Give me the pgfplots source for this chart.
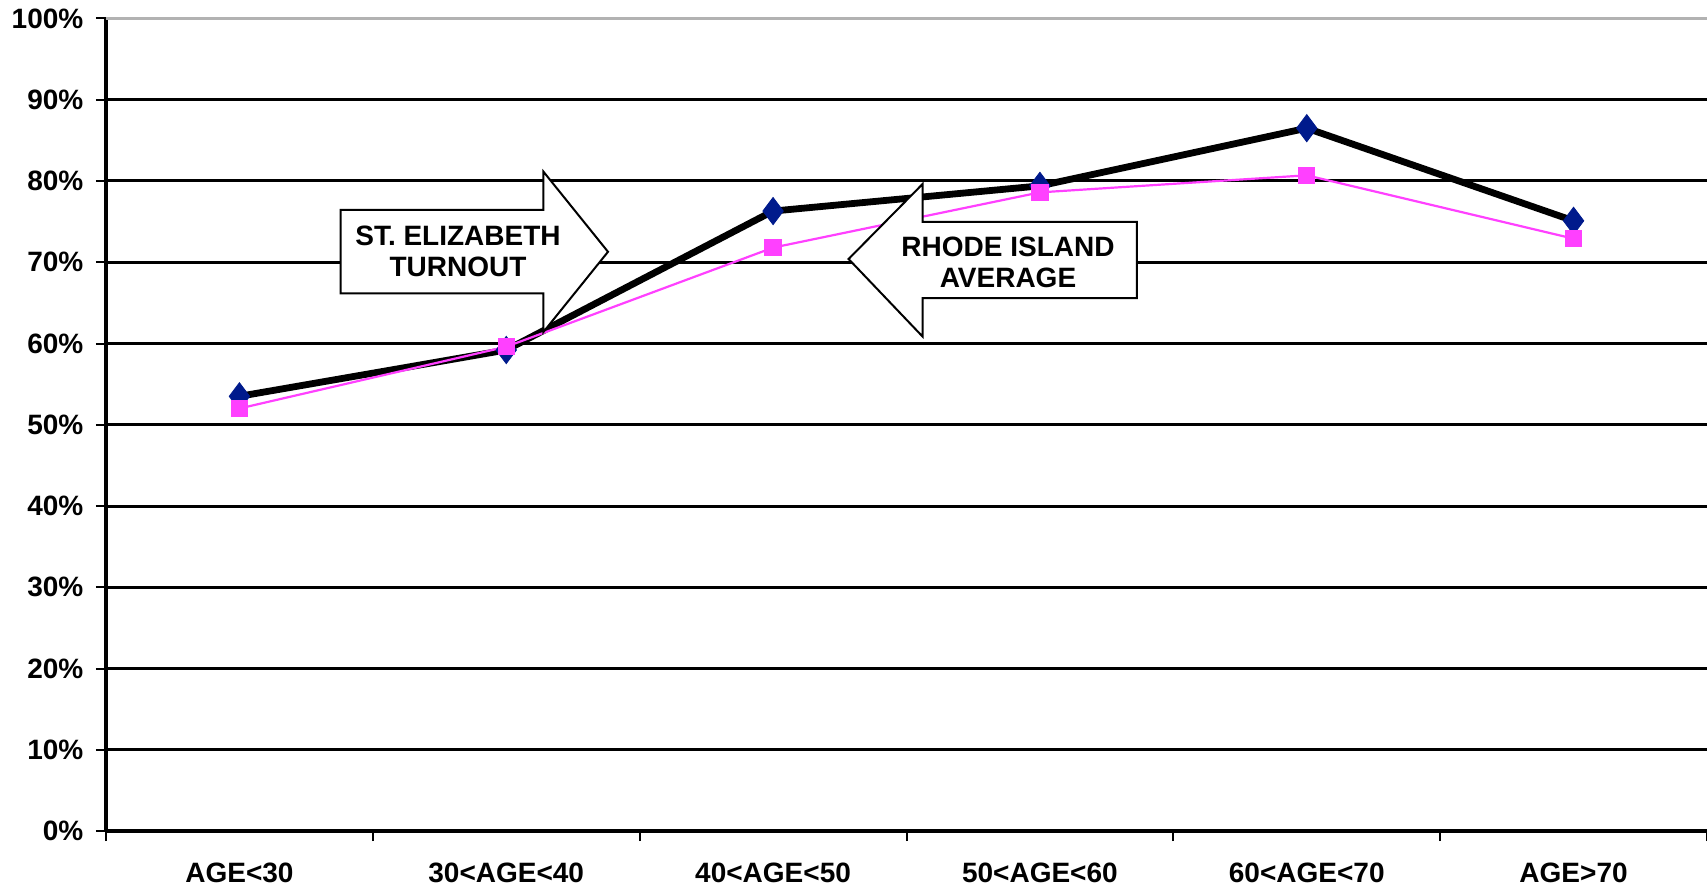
\documentclass[border=0pt]{standalone}
\usepackage{pgfplots}
\pgfplotsset{compat=1.18}
\usepackage{fontspec}
\setmainfont{Liberation Sans}
\definecolor{navymark}{RGB}{0,26,140}
\definecolor{pinkline}{RGB}{255,64,255}
\begin{document}
\begin{tikzpicture}
\useasboundingbox (-53pt,-29.5pt) rectangle (800.5pt,415.5pt);
\begin{axis}[
  at={(0pt,0pt)}, anchor=south west,
  scale only axis, width=800.5pt, height=406.25pt,
  xmin=-0.5, xmax=5.5, ymin=0, ymax=100,
  axis lines*=left,
  axis line style={black, line width=1.8pt},
  clip=false,
  xtick={-0.5,0.5,...,5.5},
  x tick label as interval,
  xticklabels={AGE<30,30<AGE<40,40<AGE<50,50<AGE<60,60<AGE<70,AGE>70},
  ytick={0,10,...,90},
  yticklabels={0\%,10\%,20\%,30\%,40\%,50\%,60\%,70\%,80\%,90\%},
  extra y ticks={100},
  extra y tick labels={100\%},
  extra y tick style={grid style={gray!60, line width=1.5pt}},
  ymajorgrids,
  grid style={black, line width=1.5pt},
  tick align=outside,
  major tick length=5pt,
  tick style={black, line width=1pt},
  tick label style={font=\fontsize{14}{16}\selectfont\bfseries},
  yticklabel style={xshift=-2.8pt},
  xticklabel style={yshift=-7.5pt},
]
\addplot[black, line width=3.4pt, mark=diamond*, mark size=6.8pt,
  mark options={fill=navymark, draw=navymark, line width=0.4pt}]
  coordinates {(0,53.5) (1,59.2) (2,76.3) (3,79.4) (4,86.5) (5,75.1)};
\addplot[pinkline, line width=1.1pt, mark=square*, mark size=3.8pt,
  mark options={fill=pinkline, draw=pinkline}]
  coordinates {(0,52.0) (1,59.6) (2,71.8) (3,78.6) (4,80.7) (5,72.9)};
\end{axis}
% ST. ELIZABETH TURNOUT callout (right arrow)
\draw[black, line width=1pt, fill=white, line join=miter]
  (117.3pt,310.5pt) -- (218.7pt,310.5pt) -- (218.7pt,329.7pt) -- (251pt,289.6pt)
  -- (218.7pt,249.5pt) -- (218.7pt,268.8pt) -- (117.3pt,268.8pt) -- cycle;
\node[align=center, font=\fontsize{14}{15.5}\selectfont\bfseries, inner sep=0pt]
  at (176pt,290pt) {ST. ELIZABETH\\TURNOUT};
% RHODE ISLAND AVERAGE callout (left arrow)
\draw[black, line width=1pt, fill=white, line join=miter]
  (515.4pt,304.5pt) -- (408.3pt,304.5pt) -- (408.3pt,323.5pt) -- (371.3pt,286pt)
  -- (408.3pt,247.2pt) -- (408.3pt,266.4pt) -- (515.4pt,266.4pt) -- cycle;
\node[align=center, font=\fontsize{14}{15.5}\selectfont\bfseries, inner sep=0pt]
  at (451pt,284.5pt) {RHODE ISLAND\\AVERAGE};
\end{tikzpicture}
\end{document}
